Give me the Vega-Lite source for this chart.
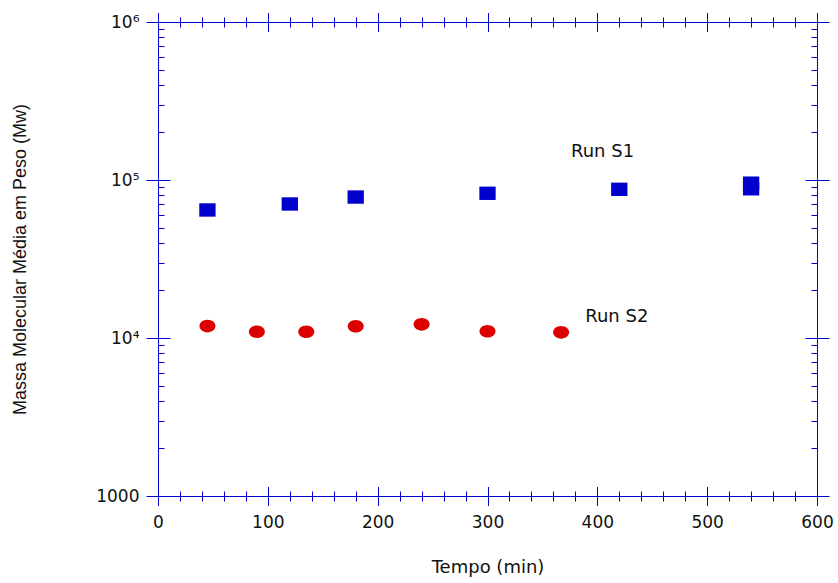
{
  "$schema": "https://vega.github.io/schema/vega-lite/v6.json",
  "width": 659,
  "height": 474,
  "autosize": {"type": "none"},
  "padding": {"left": 158, "top": 22, "right": 21, "bottom": 87},
  "background": "white",
  "config": {
    "view": {"stroke": "#0000CC", "strokeWidth": 1},
    "axis": {
      "grid": false,
      "domain": false,
      "tickColor": "#0000CC",
      "tickWidth": 1,
      "labelColor": "#111111",
      "labelFont": "DejaVu Sans",
      "labelFontSize": 17,
      "labelFlush": false,
      "labelOverlap": false,
      "labelBound": false,
      "titleColor": "#111111",
      "titleFontWeight": "normal"
    }
  },
  "datasets": {
    "pontos": [
      {"serie": "Run S1", "t": 45, "mw": 64600},
      {"serie": "Run S1", "t": 120, "mw": 70500},
      {"serie": "Run S1", "t": 180, "mw": 78000},
      {"serie": "Run S1", "t": 300, "mw": 82400},
      {"serie": "Run S1", "t": 420, "mw": 87300},
      {"serie": "Run S1", "t": 540, "mw": 88000},
      {"serie": "Run S1", "t": 540, "mw": 95500},
      {"serie": "Run S2", "t": 45, "mw": 11900},
      {"serie": "Run S2", "t": 90, "mw": 10960},
      {"serie": "Run S2", "t": 135, "mw": 10960},
      {"serie": "Run S2", "t": 180, "mw": 11860},
      {"serie": "Run S2", "t": 240, "mw": 12200},
      {"serie": "Run S2", "t": 300, "mw": 11030},
      {"serie": "Run S2", "t": 367, "mw": 10860}
    ],
    "rotulos": [
      {"serie": "Run S1", "t": 376, "mw": 139000, "label": "Run S1"},
      {"serie": "Run S2", "t": 389, "mw": 12630, "label": "Run S2"}
    ]
  },
  "resolve": {"axis": {"x": "independent", "y": "independent"}},
  "layer": [
    {
      "data": {"name": "pontos"},
      "transform": [{"filter": "datum.serie === 'Run S1'"}],
      "mark": {"type": "point", "filled": true, "opacity": 1, "color": "#0000CC", "shape": "M-1,-0.82H1V0.82H-1Z", "size": 266, "strokeWidth": 0},
      "encoding": {
        "x": {"field": "t", "type": "quantitative",
          "scale": {"domain": [0, 600], "nice": false, "zero": false},
          "axis": {"orient": "bottom", "values": [0, 100, 200, 300, 400, 500, 600], "offset": -9.5, "tickSize": 19, "labelPadding": 9,
            "title": "Tempo (min)", "titleFont": "DejaVu Sans", "titleFontSize": 18, "titlePadding": 28}},
        "y": {"field": "mw", "type": "quantitative",
          "scale": {"type": "log", "domain": [1000, 1000000], "nice": false, "zero": false},
          "axis": {"orient": "left", "values": [1000, 10000, 100000, 1000000], "offset": -12, "tickSize": 24, "labelPadding": 7,
            "labelExpr": "datum.value == 1000 ? '1000' : datum.value == 10000 ? '10⁴' : datum.value == 100000 ? '10⁵' : '10⁶'",
            "title": "Massa Molecular Média em Peso (Mw)", "titleFont": "Liberation Sans", "titleFontSize": 18, "titlePadding": 66}}
      }
    },
    {
      "data": {"name": "pontos"},
      "transform": [{"filter": "datum.serie === 'Run S2'"}],
      "mark": {"type": "point", "filled": true, "opacity": 1, "color": "#DD0000", "shape": "M-1,0C-1,-0.436 -0.552,-0.79 0,-0.79C0.552,-0.79 1,-0.436 1,0C1,0.436 0.552,0.79 0,0.79C-0.552,0.79 -1,0.436 -1,0Z", "size": 256, "strokeWidth": 0},
      "encoding": {
        "x": {"field": "t", "type": "quantitative",
          "scale": {"domain": [0, 600], "nice": false, "zero": false},
          "axis": {"orient": "bottom", "values": [20, 40, 60, 80, 120, 140, 160, 180, 220, 240, 260, 280, 320, 340, 360, 380, 420, 440, 460, 480, 520, 540, 560, 580], "offset": -5, "tickSize": 10, "labels": false, "title": null}},
        "y": {"field": "mw", "type": "quantitative",
          "scale": {"type": "log", "domain": [1000, 1000000], "nice": false, "zero": false},
          "axis": {"orient": "left", "values": [2000, 3000, 4000, 5000, 6000, 7000, 8000, 9000, 20000, 30000, 40000, 50000, 60000, 70000, 80000, 90000, 200000, 300000, 400000, 500000, 600000, 700000, 800000, 900000], "offset": -6, "tickSize": 6, "labels": false, "title": null}}
      }
    },
    {
      "data": {"name": "rotulos"},
      "transform": [{"filter": "datum.serie === 'Run S1'"}],
      "mark": {"type": "text", "align": "left", "baseline": "alphabetic", "font": "DejaVu Sans", "fontSize": 18, "color": "#111111"},
      "encoding": {
        "x": {"field": "t", "type": "quantitative",
          "scale": {"domain": [0, 600], "nice": false, "zero": false},
          "axis": {"orient": "top", "values": [0, 100, 200, 300, 400, 500, 600], "offset": -9.5, "tickSize": 19, "labels": false, "title": null}},
        "y": {"field": "mw", "type": "quantitative",
          "scale": {"type": "log", "domain": [1000, 1000000], "nice": false, "zero": false},
          "axis": {"orient": "right", "values": [1000, 10000, 100000, 1000000], "offset": -12, "tickSize": 24, "labels": false, "title": null}},
        "text": {"field": "label"}
      }
    },
    {
      "data": {"name": "rotulos"},
      "transform": [{"filter": "datum.serie === 'Run S2'"}],
      "mark": {"type": "text", "align": "left", "baseline": "alphabetic", "font": "DejaVu Sans", "fontSize": 18, "color": "#111111"},
      "encoding": {
        "x": {"field": "t", "type": "quantitative",
          "scale": {"domain": [0, 600], "nice": false, "zero": false},
          "axis": {"orient": "top", "values": [20, 40, 60, 80, 120, 140, 160, 180, 220, 240, 260, 280, 320, 340, 360, 380, 420, 440, 460, 480, 520, 540, 560, 580], "offset": -5, "tickSize": 10, "labels": false, "title": null}},
        "y": {"field": "mw", "type": "quantitative",
          "scale": {"type": "log", "domain": [1000, 1000000], "nice": false, "zero": false},
          "axis": {"orient": "right", "values": [2000, 3000, 4000, 5000, 6000, 7000, 8000, 9000, 20000, 30000, 40000, 50000, 60000, 70000, 80000, 90000, 200000, 300000, 400000, 500000, 600000, 700000, 800000, 900000], "offset": -6, "tickSize": 6, "labels": false, "title": null}},
        "text": {"field": "label"}
      }
    }
  ]
}
